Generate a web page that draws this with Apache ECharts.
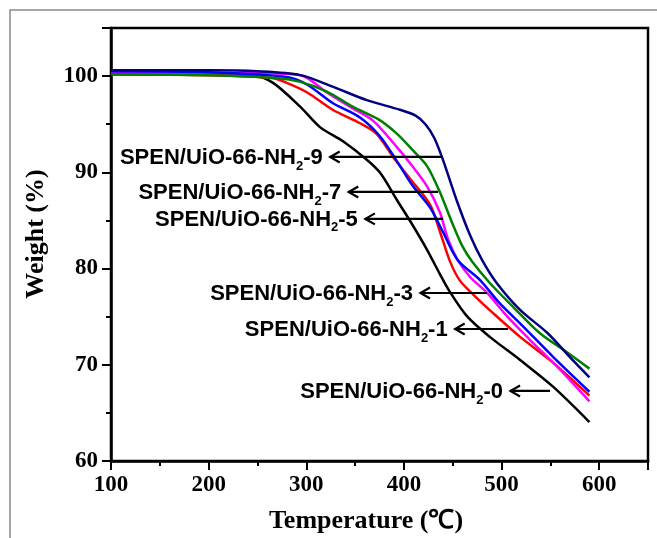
<!DOCTYPE html>
<html>
<head>
<meta charset="utf-8">
<script src="https://cdn.jsdelivr.net/npm/echarts@6/dist/echarts.min.js"></script>
<style>
html,body{margin:0;padding:0;background:#fff;}
#chart{width:657px;height:538px;}
</style>
</head>
<body>
<div id="chart"></div>
<script>
// ---- data (Temperature °C, Weight %) ----
const sample0 = [[100,100.2],[200,100.2],[245,100.1],[266,99.3],[294,96.8],[314,94.7],[338,93.2],[362,91.3],[376,89.9],[393,87.1],[409,84.5],[424,81.9],[437,79.4],[447,77.6],[465,75.0],[488,72.9],[519,70.5],[553,67.7],[590,64.05]];
const sample1 = [[100,100.2],[200,100.1],[265,99.8],[280,99.3],[301,98.3],[327,96.5],[355,95.1],[372,94.0],[391,91.3],[409,89.0],[427,86.6],[437,83.8],[447,80.8],[457,78.8],[471,77.3],[491,75.4],[519,72.9],[553,70.2],[590,66.8]];
const sample3 = [[100,100.3],[250,100.3],[294,100.1],[321,98.3],[345,96.8],[368,95.4],[393,92.6],[409,90.6],[424,88.5],[437,85.8],[445,83.1],[455,80.9],[468,79.1],[485,77.5],[506,75.0],[529,72.6],[557,69.8],[590,66.2]];
const sample5 = [[100,100.5],[200,100.4],[280,99.9],[301,99.1],[327,97.2],[355,95.7],[375,93.8],[392,91.3],[409,88.6],[427,86.3],[440,83.8],[455,80.9],[478,78.8],[498,76.4],[522,74.0],[553,70.8],[590,67.2]];
const sample7 = [[100,100.2],[200,100.1],[270,99.8],[294,99.4],[321,98.4],[348,96.8],[374,95.5],[393,94.0],[409,92.3],[424,90.6],[437,87.9],[450,84.6],[460,82.3],[470,80.7],[488,78.5],[512,76.0],[539,73.3],[567,71.3],[590,69.6]];
const sample9 = [[100,100.6],[200,100.6],[250,100.5],[294,100.1],[327,98.9],[362,97.5],[396,96.5],[412,95.9],[422,95.0],[431,93.6],[440,91.3],[454,87.1],[468,83.4],[480,80.9],[495,78.5],[519,75.7],[547,73.3],[570,70.8],[590,68.7]];

const seriesNames = ['SPEN/UiO-66-NH2-0','SPEN/UiO-66-NH2-1','SPEN/UiO-66-NH2-3','SPEN/UiO-66-NH2-5','SPEN/UiO-66-NH2-7','SPEN/UiO-66-NH2-9'];
const seriesData = [sample0, sample1, sample3, sample5, sample7, sample9];
const seriesColors = ['#000000','#ff0000','#ff00ff','#0000ff','#008000','#000080'];

// annotation arrows (data units): label suffix, y, arrow tip x, arrow tail x
const annoSuffix = ['-9','-7','-5','-3','-1','-0'];
const annoY = [91.6, 87.96, 85.16, 77.46, 73.72, 67.28];
const annoTipX = [324, 343, 360, 416.5, 452, 508.7];
const annoEndX = [439, 435, 440, 485, 506.6, 549.6];

const xTickLabels = [100,200,300,400,500,600];
const yTickLabels = [60,70,80,90,100];

const serif = '"Liberation Serif","Times New Roman",serif';
const sans = '"Liberation Sans",Arial,sans-serif';

const chart = echarts.init(document.getElementById('chart'), null, {renderer:'canvas'});

const axisLineStyle = {color:'#000', width:2.5};
const option = {
  backgroundColor:'#fff',
  animation:false,
  grid:{left:111, right:9, top:28, bottom:77, show:true, borderColor:'#000', borderWidth:2.5, backgroundColor:'transparent'},
  xAxis:[{
    type:'value', min:100, max:650, interval:50, position:'bottom',
    axisLine:{show:true, lineStyle:axisLineStyle},
    axisTick:{show:true, inside:false, length:5, lineStyle:{color:'#000', width:2}},
    splitLine:{show:false},
    axisLabel:{margin:13, color:'#000', fontFamily:serif, fontWeight:'bold', fontSize:23,
      formatter:v => xTickLabels.indexOf(v) >= 0 ? String(v) : ''}
  },{
    type:'value', min:100, max:650, interval:100, position:'bottom',
    axisLine:{show:false},
    axisTick:{show:true, inside:false, length:9, lineStyle:{color:'#000', width:2}},
    splitLine:{show:false},
    axisLabel:{show:false}
  }],
  yAxis:[{
    type:'value', min:60, max:105, interval:5, position:'left',
    axisLine:{show:true, lineStyle:axisLineStyle},
    axisTick:{show:true, inside:false, length:5, lineStyle:{color:'#000', width:2}},
    splitLine:{show:false},
    axisLabel:{margin:13, color:'#000', fontFamily:serif, fontWeight:'bold', fontSize:23,
      formatter:v => yTickLabels.indexOf(v) >= 0 ? String(v) : ''}
  },{
    type:'value', min:60, max:105, interval:10, position:'left',
    axisLine:{show:false},
    axisTick:{show:true, inside:false, length:9, lineStyle:{color:'#000', width:2}},
    splitLine:{show:false},
    axisLabel:{show:false}
  }],
  series: seriesData.map((d,i) => ({
    name: seriesNames[i], type:'line', data:d, smooth:0.3, showSymbol:false,
    xAxisIndex:0, yAxisIndex:0,
    lineStyle:{color:seriesColors[i], width:2.5}, itemStyle:{color:seriesColors[i]},
    z: 2 + i
  }))
};
chart.setOption(option);

const mainFont = 'bold 22px ' + sans;
const subFont = 'bold 13px ' + sans;
const ctx = document.createElement('canvas').getContext('2d');
function textWidth(t, f){ ctx.font = f; return ctx.measureText(t).width; }

const g = [];
// outer figure frame
g.push({type:'rect', shape:{x:10, y:10, width:700, height:600}, style:{fill:null, stroke:'#8a8a8a', lineWidth:1.5}, z:0, silent:true});
// axis titles
g.push({type:'text', x:36, y:234, rotation:Math.PI/2, style:{text:'Weight (%)', font:'bold 26px ' + serif, fill:'#000', align:'center', verticalAlign:'middle'}, z:10});
g.push({type:'text', x:366, y:521, style:{text:'Temperature (\u2103)', font:'bold 26px ' + serif, fill:'#000', align:'center', verticalAlign:'middle'}, z:10});

for (let i = 0; i < annoSuffix.length; i++) {
  const tip = chart.convertToPixel({gridIndex:0}, [annoTipX[i], annoY[i]]);
  const end = chart.convertToPixel({gridIndex:0}, [annoEndX[i], annoY[i]]);
  const y = tip[1];
  g.push({type:'line', shape:{x1:tip[0], y1:y, x2:end[0], y2:y}, style:{stroke:'#000', lineWidth:2.2}, z:20});
  g.push({type:'polyline', shape:{points:[[tip[0]+10, y-5.5],[tip[0]+0.5, y],[tip[0]+10, y+5.5]]}, style:{stroke:'#000', lineWidth:2.2, fill:null}, z:20});
  const parts = ['SPEN/UiO-66-NH', '2', annoSuffix[i]];
  const fonts = [mainFont, subFont, mainFont];
  const widths = parts.map((p,k) => textWidth(p, fonts[k]));
  let x = tip[0] - 7 - widths.reduce((a,b) => a + b, 0);
  for (let k = 0; k < parts.length; k++) {
    g.push({type:'text', x:x, y: k === 1 ? y + 9 : y + 1, z:20, style:{
      text:parts[k], font:fonts[k], fill:'#000', align:'left', verticalAlign:'middle'}});
    x += widths[k];
  }
}
chart.setOption({graphic:{elements:g}});
</script>
</body>
</html>
